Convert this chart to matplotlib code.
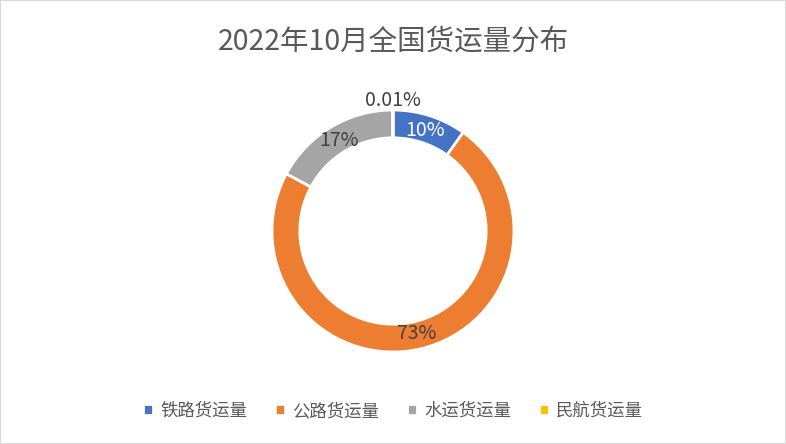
import matplotlib.pyplot as plt
from matplotlib.patches import Rectangle
import numpy as np

plt.rcParams['font.family'] = ['Noto Sans CJK SC', 'DejaVu Sans']

labels = ['铁路货运量', '公路货运量', '水运货运量', '民航货运量']
values = [4.25, 31.5, 7.4, 0.0056]  # 亿吨
pct_text = ['10%', '73%', '17%', '0.01%']
colors = ['#4472C4', '#ED7D31', '#A5A5A5', '#FFC000']
txt_color = '#595959'
lbl_color = '#404040'

W, H = 786, 444
fig = plt.figure(figsize=(W / 100, H / 100), dpi=100)
fig.patches.append(Rectangle((0, 0), 1, 1, transform=fig.transFigure,
                             fill=False, edgecolor='#D9D9D9', lw=1.5))

cx, cy, r = 393, 231, 121
ax = fig.add_axes([(cx - r) / W, (H - cy - r) / H, 2 * r / W, 2 * r / H])
wedges, _ = ax.pie(values, colors=colors, startangle=90, counterclock=False,
                   radius=1, wedgeprops=dict(width=0.23, edgecolor='white', linewidth=2))
ax.set_xlim(-1, 1)
ax.set_ylim(-1, 1)
ax.set_aspect('equal')

for i, w in enumerate(wedges):
    ang = np.deg2rad((w.theta1 + w.theta2) / 2)
    if i == 3:
        x, y = 0, 1.08
        col = lbl_color
    else:
        d = 0.87
        x, y = d * np.cos(ang), d * np.sin(ang)
        col = 'white' if i == 0 else lbl_color
    ax.text(x, y, pct_text[i], ha='center', va='center', fontsize=14,
            color=col, fontweight='medium' if i == 0 else 'normal')

fig.text(0.5, 1 - 42 / H, '2022年10月全国货运量分布', ha='center', va='center',
         fontsize=20.5, color=txt_color)

fig.legend(wedges, labels, loc='center', bbox_to_anchor=(0.5, 1 - 411 / H),
           ncol=4, frameon=False, fontsize=12.5, handlelength=0.6, handleheight=0.6,
           handletextpad=0.4, columnspacing=1.6, labelcolor=txt_color)

fig.savefig('out.png', dpi=100)
